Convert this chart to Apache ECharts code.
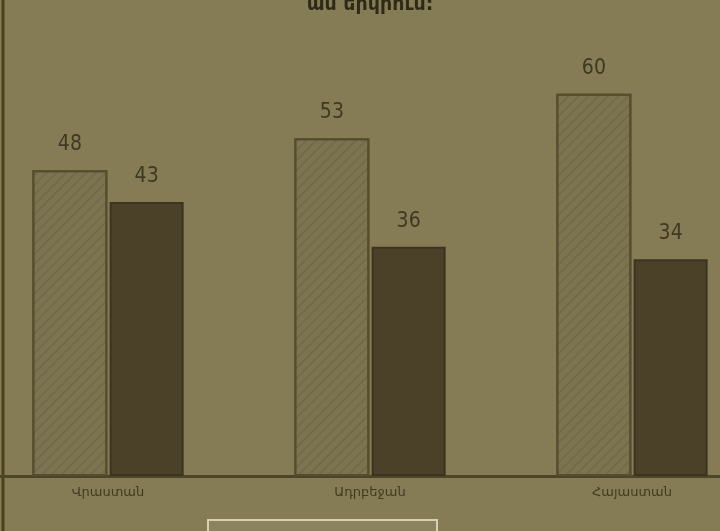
<!DOCTYPE html>
<html lang="hy">
<head>
    <meta charset="UTF-8">
    <title>Chart</title>
    <script src="https://cdn.jsdelivr.net/npm/echarts@6/dist/echarts.min.js"></script>
    <style>
        html, body { margin: 0; padding: 0; background: #857c55; }
        #main { width: 720px; height: 531px; }
    </style>
</head>
<body>
    <div id="main"></div>
    <script>
        // data
        var countries = ['Վրաստան', 'Ադրբեջան', 'Հայաստան']
        var lightValues = [48, 53, 60]
        var darkValues = [43, 36, 34]

        var myChart = echarts.init(document.getElementById('main'))

        var labelStyle = {
            show: true,
            position: 'top',
            distance: 15,
            color: '#3f3820',
            fontFamily: 'DejaVu Sans Condensed',
            fontSize: 21
        }

        var option = {
            backgroundColor: '#857c55',
            animation: false,
            title: {
                text: 'ամ երկրում:',
                left: 365,
                top: -9,
                textAlign: 'center',
                textStyle: {
                    color: '#2f2a18',
                    fontFamily: 'DejaVu Sans',
                    fontWeight: 'bold',
                    fontSize: 19
                }
            },
            grid: {
                left: -23,
                right: -43,
                top: 30,
                bottom: 55,
                containLabel: false,
                outerBoundsMode: 'none'
            },
            xAxis: {
                type: 'category',
                data: countries,
                axisTick: { show: false },
                axisLine: { lineStyle: { color: '#4e4528', width: 3 } },
                axisLabel: {
                    color: '#423a20',
                    fontFamily: 'DejaVu Sans',
                    fontSize: 13,
                    margin: 10
                }
            },
            yAxis: {
                type: 'value',
                min: 0,
                max: 70,
                show: false,
                splitLine: { show: false }
            },
            series: [{
                type: 'bar',
                data: lightValues,
                barWidth: 75,
                barGap: '3%',
                itemStyle: {
                    color: '#7c7451',
                    borderColor: '#564d2e',
                    borderWidth: 2,
                    decal: {
                        symbol: 'rect',
                        symbolSize: 1,
                        dashArrayX: [1, 0],
                        dashArrayY: [2, 5],
                        rotation: -Math.PI / 4,
                        color: 'rgba(70,62,38,0.18)'
                    }
                },
                label: labelStyle
            }, {
                type: 'bar',
                data: darkValues,
                barWidth: 74,
                itemStyle: {
                    color: '#4b4128',
                    borderColor: '#3c3420',
                    borderWidth: 2
                },
                label: labelStyle
            }],
            graphic: [{
                // left border line of the page
                type: 'line',
                shape: { x1: 3, y1: 0, x2: 3, y2: 531 },
                style: { stroke: '#4a4220', lineWidth: 3 }
            }, {
                // legend box (cut off at the bottom)
                type: 'rect',
                shape: { x: 208, y: 520, width: 229, height: 30 },
                style: { fill: '#8b8360', stroke: '#d6d0ae', lineWidth: 2 }
            }]
        }
        myChart.setOption(option)
    </script>
</body>
</html>
